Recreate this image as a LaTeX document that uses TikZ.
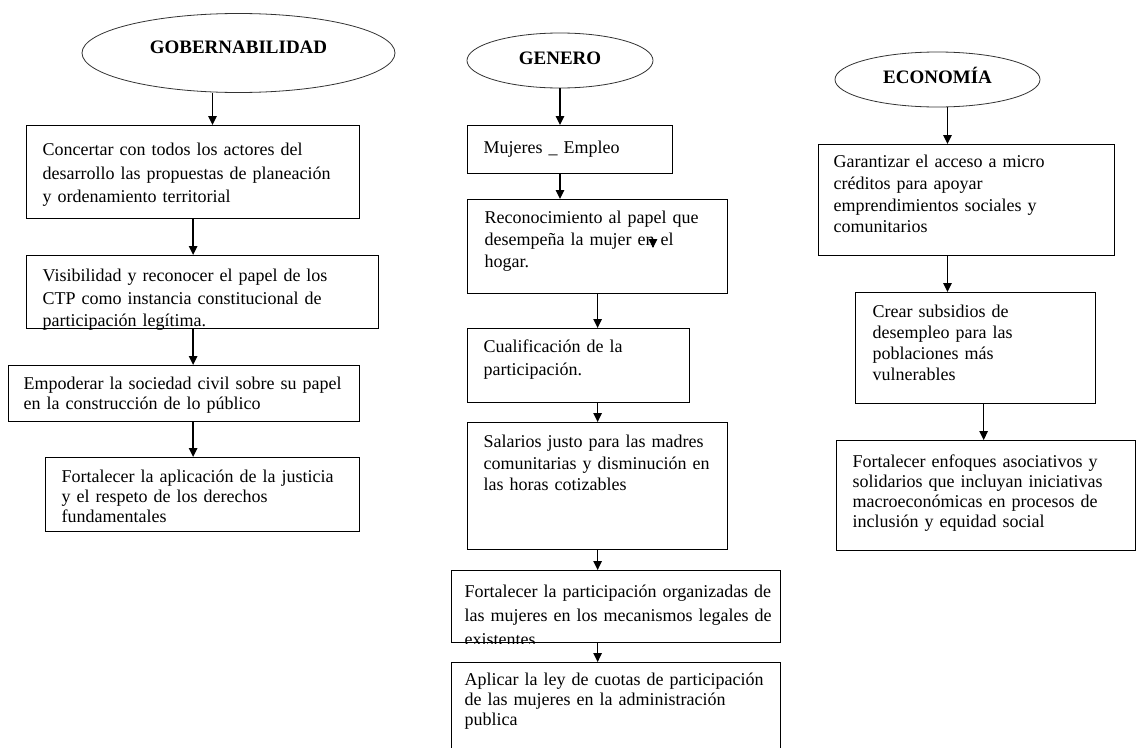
\documentclass[tikz,border=0pt]{standalone}
\usepackage{fontspec}
\setmainfont{Liberation Serif}
\usetikzlibrary{shapes.geometric,arrows.meta}

\tikzset{
  titulo/.style={draw=black!80, line width=0.8pt, ellipse, font=\bfseries\fontsize{19}{19}\selectfont, text height=13pt, text depth=6pt},
  caja/.style={draw, line width=1.3pt, anchor=north west, align=left, inner ysep=0pt, inner xsep=16pt, font=\fontsize{18}{21.5}\selectfont},
  flecha/.style={-{Triangle[length=9pt,width=8.5pt]}, line width=1.4pt},
  tapa/.style={fill=white},
}

\begin{document}
\begin{tikzpicture}[x=1pt,y=-1pt]
  \clip (0,0) rectangle (1137,747);
  \fill[white] (0,0) rectangle (1137,747);

  % gobernabilidad
  \node[titulo, minimum width=313pt, minimum height=79pt, text depth=13pt] (gob) at (238.5,53) {GOBERNABILIDAD};
  \node[caja, text width=301pt, text height=30pt, text depth=63pt, font=\fontsize{18}{23.5}\selectfont] (g1) at (26,125)
    {Concertar con todos los actores del\\ desarrollo las propuestas de planeación\\ y ordenamiento territorial};
  \node[caja, text width=320pt, text height=26pt, text depth=47pt, font=\fontsize{18}{22.5}\selectfont] (g2) at (26,255)
    {Visibilidad y reconocer el papel de los\\ CTP como instancia constitucional de\\ participación legítima.};
  \node[caja, text width=321pt, inner xsep=15pt, text height=24pt, text depth=32pt, font=\fontsize{18}{20}\selectfont] (g3) at (8,365)
    {Empoderar la sociedad civil sobre su papel\\ en la construcción de lo público};
  \node[caja, text width=282pt, text height=25pt, text depth=49pt, font=\fontsize{18}{20}\selectfont] (g4) at (45,457)
    {Fortalecer la aplicación de la justicia\\ y el respeto de los derechos\\ fundamentales};

  % genero
  \node[titulo, minimum width=186pt, minimum height=55pt] (gen) at (560,60.5) {GENERO};
  \node[caja, text width=173pt, text height=28pt, text depth=20pt] (m1) at (467,125) {Mujeres \_ Empleo};
  \node[caja, text width=226pt, inner xsep=17pt, text height=24pt, text depth=70pt, font=\fontsize{18}{22}\selectfont] (m2) at (467,199)
    {Reconocimiento al papel que\\ desempeña la mujer en el\\ hogar.};
  \node[caja, text width=190pt, text height=24pt, text depth=50pt, font=\fontsize{18}{23}\selectfont] (m3) at (467,328)
    {Cualificación de la\\ participación.};
  \node[caja, text width=228pt, text height=25pt, text depth=102pt] (m4) at (467,422)
    {Salarios justo para las madres\\ comunitarias y disminución en\\ las horas cotizables};
  \node[caja, text width=303pt, inner xsep=13pt, text height=27pt, text depth=45pt, font=\fontsize{18}{24}\selectfont] (m5) at (451,570)
    {\mbox{Fortalecer la participación organizadas de}\\ \mbox{las mujeres en los mecanismos legales de}\\ existentes};
  \node[caja, text width=303pt, inner xsep=13pt, text height=23pt, text depth=100pt, font=\fontsize{18}{20}\selectfont] (m6) at (451,662)
    {\mbox{Aplicar la ley de cuotas de participación}\\ de las mujeres en la administración\\ publica};

  % economia
  \node[titulo, minimum width=205pt, minimum height=55pt] (eco) at (937.5,79.5) {ECONOMÍA};
  \node[caja, text width=266pt, inner xsep=15pt, text height=23pt, text depth=88pt, font=\fontsize{18}{21.7}\selectfont] (e1) at (818,144)
    {Garantizar el acceso a micro\\ créditos para apoyar\\ emprendimientos sociales y\\ comunitarios};
  \node[caja, text width=206pt, inner xsep=17pt, text height=25pt, text depth=86pt, font=\fontsize{18}{21}\selectfont] (e2) at (855,292)
    {Crear subsidios de\\ desempleo para las\\ poblaciones más\\ vulnerables};
  \node[caja, text width=267pt, text height=27pt, text depth=83pt, font=\fontsize{18}{20}\selectfont] (e3) at (836,440)
    {Fortalecer enfoques asociativos y\\ solidarios que incluyan iniciativas\\ macroeconómicas en procesos de\\ inclusión y equidad social};

  % texto cortado
  \fill[tapa] ([xshift=-1pt,yshift=-0.65pt]g2.south west) rectangle ([xshift=1pt,yshift=-12pt]g2.south east);
  \fill[tapa] ([xshift=-1pt,yshift=-0.65pt]m5.south west) rectangle ([xshift=1pt,yshift=-12pt]m5.south east);

  % flechas
  \coordinate (x1) at ([xshift=-26pt]gob.south);
  \coordinate (x3) at ([xshift=10pt]eco.south);
  \coordinate (x4) at ([xshift=8pt]e2.south);
  \coordinate (p1) at (653,248);

  \draw[flecha] (x1) -- (x1 |- g1.north);
  \draw[flecha] (g1.south) -- (g1.south |- g2.north);
  \draw[flecha] (g2.south -| g1.south) -- (g1.south |- g3.north);
  \draw[flecha] (g3.south -| g1.south) -- (g1.south |- g4.north);

  \draw[flecha] (gen.south) -- (gen.south |- m1.north);
  \draw[flecha] (m1.south -| gen.south) -- (gen.south |- m2.north);
  \draw[flecha] (m2.south) -- (m2.south |- m3.north);
  \draw[flecha] (m3.south -| m2.south) -- (m2.south |- m4.north);
  \draw[flecha] (m4.south) -- (m4.south |- m5.north);
  \draw[flecha] (m5.south -| m4.south) -- (m4.south |- m6.north);
  \draw[flecha] ([yshift=1pt]p1) -- (p1);

  \draw[flecha] (x3) -- (x3 |- e1.north);
  \draw[flecha] (e1.south -| x3) -- (x3 |- e2.north);
  \draw[flecha] (x4) -- (x4 |- e3.north);
\end{tikzpicture}
\end{document}
